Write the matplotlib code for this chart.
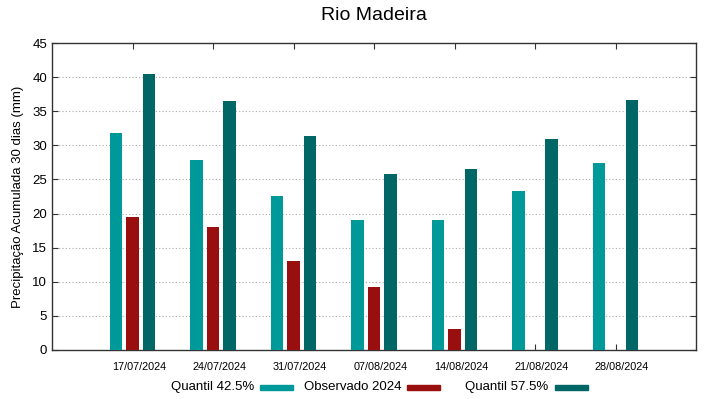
import matplotlib
matplotlib.use("Agg")
import matplotlib.pyplot as plt
import matplotlib.transforms as mtransforms
import numpy as np
from matplotlib.patches import Rectangle

plt.rcParams['font.family'] = ['Liberation Sans', 'DejaVu Sans']

dates = ["17/07/2024", "24/07/2024", "31/07/2024", "07/08/2024",
         "14/08/2024", "21/08/2024", "28/08/2024"]
q425 = [31.8, 27.8, 22.6, 19.1, 19.0, 23.3, 27.4]
obs2024 = [19.5, 18.1, 13.0, 9.3, 3.1, np.nan, np.nan]
q575 = [40.5, 36.5, 31.4, 25.8, 26.6, 30.9, 36.7]
yticks = [0, 5, 10, 15, 20, 25, 30, 35, 40, 45]

c_q425 = "#009999"
c_obs = "#990f0f"
c_q575 = "#006666"

fig = plt.figure(figsize=(7.19, 3.99), dpi=100)
W, H = 719, 399
ax = fig.add_axes([52 / W, 1 - 350 / H, (696 - 52) / W, (350 - 43) / H])

x = np.arange(len(dates))
bw = 0.155
off = 0.205
ax.bar(x - off, q425, bw, color=c_q425, zorder=3)
ax.bar(x, obs2024, bw, color=c_obs, zorder=3)
ax.bar(x + off, q575, bw, color=c_q575, zorder=3)

ax.set_xlim(-1.0, 7.0)
ax.set_ylim(0, 45)
ax.set_yticks(yticks)
ax.set_xticks(x)
ax.set_xticklabels(dates, fontsize=7.8)
ax.tick_params(axis='y', labelsize=9.5, direction='in', right=True, length=4, width=0.8, colors='#333333', labelcolor='black')
ax.tick_params(axis='x', direction='in', top=True, length=4, width=0.8, pad=9, colors='#333333', labelcolor='black')
shift = mtransforms.ScaledTranslation(6.5 / 100, 0, fig.dpi_scale_trans)
for lbl in ax.get_xticklabels():
    lbl.set_transform(lbl.get_transform() + shift)
for yv in yticks[1:-1]:
    ax.axhline(yv, color='#aaaaaa', linestyle=(0, (1, 2)), linewidth=0.8, zorder=1)
for s in ax.spines.values():
    s.set_color('#333333')
    s.set_linewidth(1.0)

ax.set_ylabel("Precipitação Acumulada 30 dias (mm)", fontsize=9.5, labelpad=6)
fig.text(374 / W, 1 - 16 / H, "Rio Madeira", ha='center', va='center', fontsize=14)

# legend (gnuplot style: text then swatch)
legend_items = [("Quantil 42.5%", c_q425, 254, 260),
                ("Observado 2024", c_obs, 401, 407),
                ("Quantil 57.5%", c_q575, 548, 555)]
for label, col, tx, sx in legend_items:
    fig.text(tx / W, 1 - 387 / H, label, ha='right', va='center', fontsize=9.5)
    fig.patches.append(Rectangle((sx / W, 1 - 390 / H), 33 / W, 5 / H,
                                 transform=fig.transFigure, color=col, figure=fig))

fig.savefig("out.png", dpi=100)
